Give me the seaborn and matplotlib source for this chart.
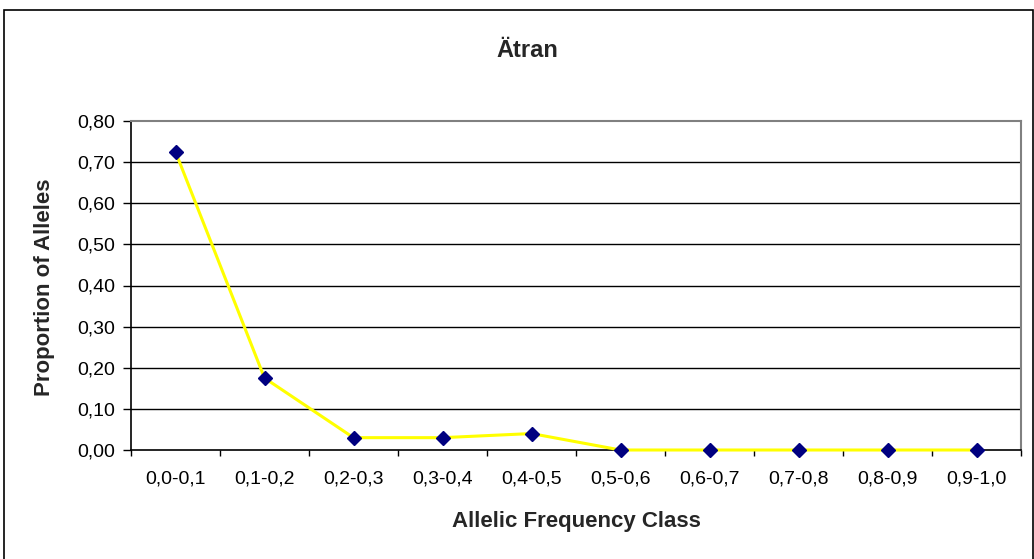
import matplotlib
matplotlib.use("Agg")
import matplotlib.pyplot as plt
from matplotlib.patches import Rectangle
from matplotlib.ticker import FixedLocator, NullFormatter
import seaborn as sns
import pandas as pd

# Allele frequency classes and the proportion of alleles in each
classes = ["0,0-0,1", "0,1-0,2", "0,2-0,3", "0,3-0,4", "0,4-0,5",
           "0,5-0,6", "0,6-0,7", "0,7-0,8", "0,8-0,9", "0,9-1,0"]
proportion = [0.725, 0.175, 0.03, 0.03, 0.04, 0.0, 0.0, 0.0, 0.0, 0.0]
y_ticks = [0.0, 0.1, 0.2, 0.3, 0.4, 0.5, 0.6, 0.7, 0.8]

sns.set_theme(style="white")
plt.rcParams["font.family"] = ["Liberation Sans", "DejaVu Sans"]

df = pd.DataFrame({"cls": classes, "prop": proportion})

W, H = 1034, 559
fig = plt.figure(figsize=(W / 100, H / 100), dpi=100)
ax = fig.add_axes([131 / W, 1 - 450 / H, 890 / W, 329 / H])

sns.lineplot(data=df, x="cls", y="prop", ax=ax, color="#FFFF00",
             linewidth=2.2, marker="D", markersize=7.5,
             markerfacecolor="#000080", markeredgecolor="#000080",
             markeredgewidth=1, sort=False, zorder=3, clip_on=False)

ax.set_xlim(-0.5, len(classes) - 0.5)
ax.set_ylim(0, 0.8)

# horizontal grid lines
for v in y_ticks[1:-1]:
    ax.axhline(v, color="black", linewidth=1.0, zorder=1)

ax.set_yticks(y_ticks)
ax.set_yticklabels([f"{v:.2f}".replace(".", ",") for v in y_ticks], fontsize=14)
ax.set_xticks(range(len(classes)))
ax.set_xticklabels(classes, fontsize=14)
ax.xaxis.set_minor_locator(FixedLocator([i - 0.5 for i in range(len(classes) + 1)]))
ax.xaxis.set_minor_formatter(NullFormatter())
ax.tick_params(axis="x", which="major", length=0, pad=15, colors="black")
ax.tick_params(axis="x", which="minor", length=4.5, width=1, color="black",
               direction="out", bottom=True)
ax.tick_params(axis="y", length=5.5, width=1, color="black", direction="out",
               left=True, pad=6, colors="black")

for side in ["left", "bottom"]:
    ax.spines[side].set_color("black")
    ax.spines[side].set_linewidth(1.2)
for side in ["top", "right"]:
    ax.spines[side].set_color("#808080")
    ax.spines[side].set_linewidth(1.5)

ax.set_xlabel("")
ax.set_ylabel("")

fig.text(527 / W, 1 - 57 / H, "Ätran", ha="center", va="baseline",
         fontsize=17, fontweight="bold")
fig.text(576 / W, 1 - 527 / H, "Allelic Frequency Class", ha="center",
         va="baseline", fontsize=16, fontweight="bold")
fig.text(45 / W, 1 - 287 / H, "Proportion of Alleles", ha="center",
         va="center", rotation=90, fontsize=16, fontweight="bold")

# chart area border
fig.patches.append(Rectangle((4 / W, -0.01), 1029 / W, 1 - 10 / H + 0.01,
                             transform=fig.transFigure, fill=False,
                             edgecolor="black", linewidth=1.2))

fig.savefig("out.png", dpi=100)
